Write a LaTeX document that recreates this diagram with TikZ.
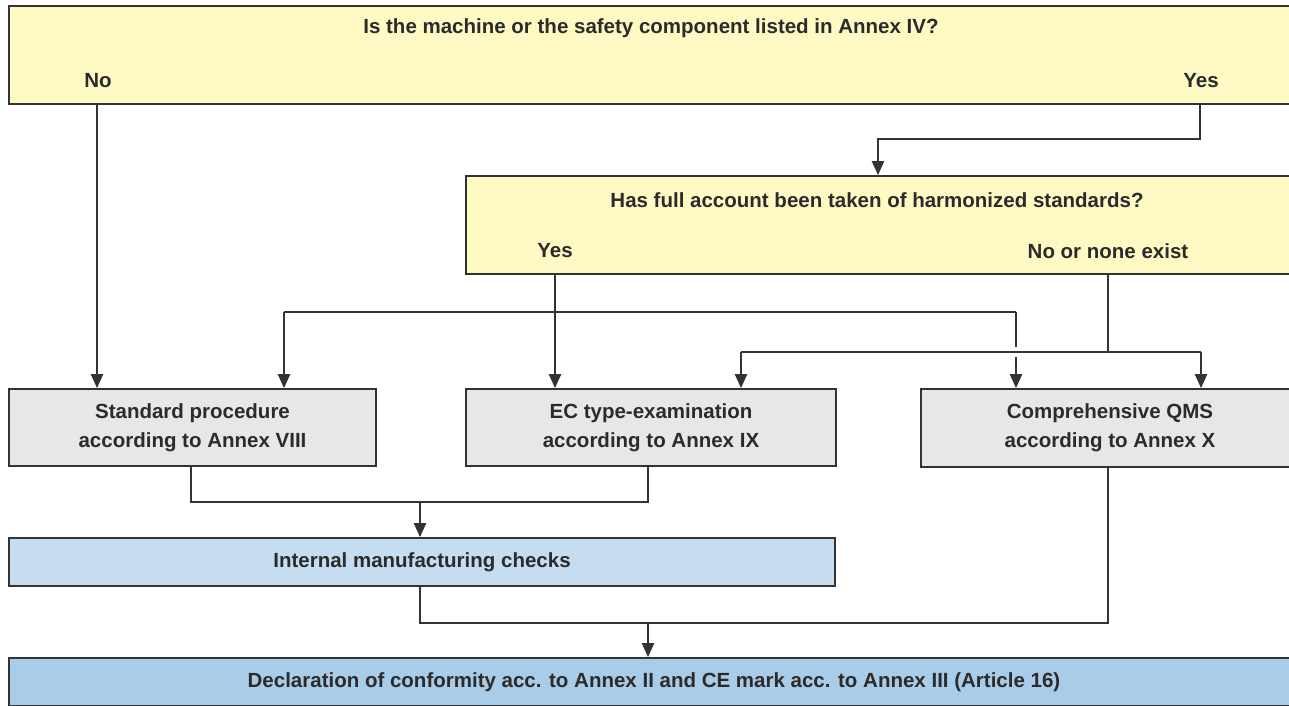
\documentclass[tikz,border=0pt]{standalone}
\usepackage{fontspec}
\setmainfont{Liberation Sans}
\usetikzlibrary{arrows.meta,calc}
\definecolor{qyellow}{HTML}{FFF9C4}
\definecolor{pgray}{HTML}{E6E7E8}
\definecolor{lblue}{HTML}{C6DCF0}
\definecolor{mblue}{HTML}{A9CCE9}
\definecolor{linec}{HTML}{333333}
\definecolor{textc}{HTML}{2B2B2B}
\begin{document}
\begin{tikzpicture}[x=1pt,y=-1pt,
  box/.style={draw=linec, line width=2pt, inner sep=0pt, anchor=north west},
  conn/.style={draw=linec, line width=1.1pt},
  arr/.style={conn, -{Triangle[length=14pt,width=12.5pt]}},
  lbl/.style={font=\bfseries\fontsize{20.5}{29}\selectfont, text=textc, align=center, inner sep=0pt}]
\useasboundingbox (0,0) rectangle (1289,706);
\clip (0,0) rectangle (1289,706);
% boxes
\node[box, fill=qyellow, minimum width=1290pt, minimum height=98pt] (q1) at (8,5) {};
\node[lbl] (q1t) at (651,28) {Is the machine or the safety component listed in Annex IV?};
\node[lbl] (q1no) at (98,81) {No};
\node[lbl] (q1yes) at (1201,81) {Yes};
\node[box, fill=qyellow, minimum width=833pt, minimum height=98pt] (q2) at (465,175) {};
\node[lbl] (q2t) at (877,200) {Has full account been taken of harmonized standards?};
\node[lbl] (q2yes) at (555,251) {Yes};
\node[lbl] (q2no) at (1108,251) {No or none exist};
\node[box, lbl, fill=pgray, minimum width=367pt, minimum height=77pt] (A) at (8,388) {Standard procedure\\according to Annex VIII};
\node[box, lbl, fill=pgray, minimum width=370pt, minimum height=77pt] (B) at (465,388) {EC type-examination\\according to Annex IX};
\node[box, lbl, fill=pgray, minimum width=378pt, minimum height=78pt] (C) at (920,388) {Comprehensive QMS\\according to Annex X};
\node[box, lbl, fill=lblue, minimum width=826pt, minimum height=48pt] (I) at (8,537) {Internal manufacturing checks};
\node[box, lbl, fill=mblue, minimum width=1290pt, minimum height=48pt] (D) at (8,657) {Declaration of conformity acc. to Annex II and CE mark acc. to Annex III (Article 16)};
% helper coordinates
\coordinate (xno) at (97,0);
\coordinate (xyes) at (1200,0);
\coordinate (xq2) at (878,0);
\coordinate (yyes) at (0,139);
\coordinate (xy2) at (555,0);
\coordinate (xa) at (284,0);
\coordinate (xc1) at (1016,0);
\coordinate (y312) at (0,312);
\coordinate (xnn) at (1108,0);
\coordinate (y352) at (0,352);
\coordinate (xb2) at (741,0);
\coordinate (xc2) at (1201,0);
\coordinate (xab) at (191,0);
\coordinate (xbb) at (648,0);
\coordinate (y502) at (0,502);
\coordinate (xi) at (420,0);
\coordinate (y623) at (0,623);
\coordinate (gt) at (1016,347);
\coordinate (gb) at (1016,357);
% connectors
\draw[arr] (q1.south -| xno) -- (A.north -| xno);
\draw[arr] (q1.south -| xyes) -- (yyes -| xyes) -- (yyes -| xq2) -- (q2.north -| xq2);
\draw[arr] (q2.south -| xy2) -- (B.north -| xy2);
\draw[conn] (y312 -| xa) -- (y312 -| xc1);
\draw[arr] (y312 -| xa) -- (A.north -| xa);
\draw[conn] (y312 -| xc1) -- (gt);
\draw[arr] (gb) -- (C.north -| xc1);
\draw[conn] (q2.south -| xnn) -- (y352 -| xnn);
\draw[conn] (y352 -| xb2) -- (y352 -| xc2);
\draw[arr] (y352 -| xb2) -- (B.north -| xb2);
\draw[arr] (y352 -| xc2) -- (C.north -| xc2);
\draw[conn] (A.south -| xab) -- (y502 -| xab) -- (y502 -| xbb) -- (B.south -| xbb);
\draw[arr] (y502 -| xi) -- (I.north -| xi);
\draw[conn] (I.south -| xi) -- (y623 -| xi) -- (y623 -| xnn) -- (C.south -| xnn);
\draw[arr] (y623 -| xbb) -- (D.north -| xbb);
\end{tikzpicture}
\end{document}
